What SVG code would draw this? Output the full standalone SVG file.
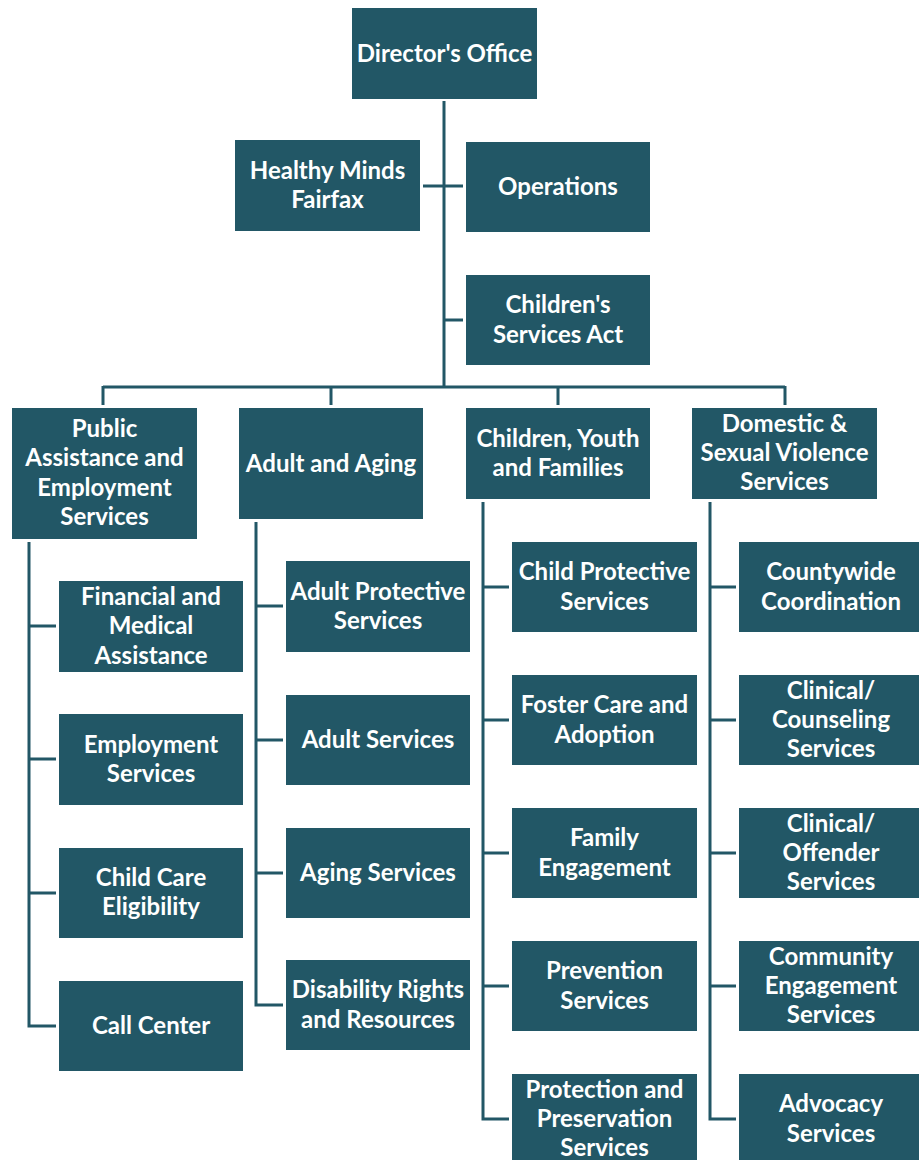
<svg xmlns="http://www.w3.org/2000/svg" width="919" height="1160" viewBox="0 0 919 1160">
<style>
.b{fill:#225766}
.t{fill:#ffffff;font-family:Lato,"Open Sans","Liberation Sans",sans-serif;font-weight:bold;font-size:24px;text-anchor:middle}
.c{stroke:#225766;stroke-width:3;fill:none}
</style>
<rect width="919" height="1160" fill="#ffffff"/>
<g id="connectors" class="c">
<path d="M444 101V387"/>
<path d="M423 186H463"/>
<path d="M444 320H463"/>
<path d="M103 387H785M103 386V405M331 386V405M558 386V405M785 386V405"/>
<path d="M29 542V1026H56M29 626H56M29 759H56M29 893H56"/>
<path d="M256 522V1005H283M256 606H283M256 740H283M256 873H283"/>
<path d="M483 502V1119H509M483 587H509M483 720H509M483 853H509M483 986H509"/>
<path d="M710 502V1119H736M710 587H736M710 720H736M710 853H736M710 986H736"/>
</g>
<g id="director"><rect class="b" x="352" y="8" width="185" height="91"/><text class="t" x="444.5" y="61.5">Director's Office</text></g>
<g id="healthy"><rect class="b" x="235" y="140" width="185" height="91"/><text class="t" x="327.5" y="178.5">Healthy Minds</text><text class="t" x="327.5" y="207.8">Fairfax</text></g>
<g id="operations"><rect class="b" x="466" y="142" width="184" height="90"/><text class="t" x="558" y="195">Operations</text></g>
<g id="csa"><rect class="b" x="466" y="275" width="184" height="90"/><text class="t" x="558" y="313.4">Children's</text><text class="t" x="558" y="342.7">Services Act</text></g>

<g id="public"><rect class="b" x="12" y="408" width="185" height="131"/><text class="t" x="104.5" y="437">Public</text><text class="t" x="104.5" y="466.3">Assistance and</text><text class="t" x="104.5" y="495.6">Employment</text><text class="t" x="104.5" y="524.9">Services</text></g>
<g id="adultaging"><rect class="b" x="239" y="408" width="184" height="111"/><text class="t" x="331" y="471.5">Adult and Aging</text></g>
<g id="cyf"><rect class="b" x="466" y="408" width="184" height="91"/><text class="t" x="558" y="447">Children, Youth</text><text class="t" x="558" y="476.3">and Families</text></g>
<g id="dsvs"><rect class="b" x="692" y="408" width="185" height="91"/><text class="t" x="784.5" y="431.8">Domestic &amp;</text><text class="t" x="784.5" y="461.1">Sexual Violence</text><text class="t" x="784.5" y="490.4">Services</text></g>

<g id="financial"><rect class="b" x="59" y="581" width="184" height="91"/><text class="t" x="151" y="605">Financial and</text><text class="t" x="151" y="634.3">Medical</text><text class="t" x="151" y="663.6">Assistance</text></g>
<g id="employment"><rect class="b" x="59" y="714" width="184" height="91"/><text class="t" x="151" y="753">Employment</text><text class="t" x="151" y="782.3">Services</text></g>
<g id="childcare"><rect class="b" x="59" y="848" width="184" height="90"/><text class="t" x="151" y="886">Child Care</text><text class="t" x="151" y="915.3">Eligibility</text></g>
<g id="callcenter"><rect class="b" x="59" y="981" width="184" height="90"/><text class="t" x="151" y="1034">Call Center</text></g>

<g id="aps"><rect class="b" x="286" y="561" width="184" height="91"/><text class="t" x="378" y="599.5">Adult Protective</text><text class="t" x="378" y="628.8">Services</text></g>
<g id="adultservices"><rect class="b" x="286" y="695" width="184" height="90"/><text class="t" x="378" y="748">Adult Services</text></g>
<g id="aging"><rect class="b" x="286" y="828" width="184" height="90"/><text class="t" x="378" y="881">Aging Services</text></g>
<g id="disability"><rect class="b" x="286" y="960" width="184" height="90"/><text class="t" x="378" y="998.4">Disability Rights</text><text class="t" x="378" y="1027.7">and Resources</text></g>

<g id="cps"><rect class="b" x="512" y="542" width="185" height="90"/><text class="t" x="604.5" y="580.4">Child Protective</text><text class="t" x="604.5" y="609.7">Services</text></g>
<g id="foster"><rect class="b" x="512" y="675" width="185" height="90"/><text class="t" x="604.5" y="713.4">Foster Care and</text><text class="t" x="604.5" y="742.7">Adoption</text></g>
<g id="family"><rect class="b" x="512" y="808" width="185" height="90"/><text class="t" x="604.5" y="846.4">Family</text><text class="t" x="604.5" y="875.7">Engagement</text></g>
<g id="prevention"><rect class="b" x="512" y="941" width="185" height="90"/><text class="t" x="604.5" y="979.4">Prevention</text><text class="t" x="604.5" y="1008.7">Services</text></g>
<g id="protection"><rect class="b" x="512" y="1074" width="185" height="90"/><text class="t" x="604.5" y="1097.7">Protection and</text><text class="t" x="604.5" y="1127">Preservation</text><text class="t" x="604.5" y="1156.3">Services</text></g>

<g id="countywide"><rect class="b" x="739" y="542" width="184" height="90"/><text class="t" x="831" y="580.4">Countywide</text><text class="t" x="831" y="609.7">Coordination</text></g>
<g id="counseling"><rect class="b" x="739" y="675" width="184" height="90"/><text class="t" x="831" y="698.7">Clinical/</text><text class="t" x="831" y="728">Counseling</text><text class="t" x="831" y="757.3">Services</text></g>
<g id="offender"><rect class="b" x="739" y="808" width="184" height="90"/><text class="t" x="831" y="831.7">Clinical/</text><text class="t" x="831" y="861">Offender</text><text class="t" x="831" y="890.3">Services</text></g>
<g id="community"><rect class="b" x="739" y="941" width="184" height="90"/><text class="t" x="831" y="964.7">Community</text><text class="t" x="831" y="994">Engagement</text><text class="t" x="831" y="1023.3">Services</text></g>
<g id="advocacy"><rect class="b" x="739" y="1074" width="184" height="90"/><text class="t" x="831" y="1112.4">Advocacy</text><text class="t" x="831" y="1141.7">Services</text></g>
</svg>
